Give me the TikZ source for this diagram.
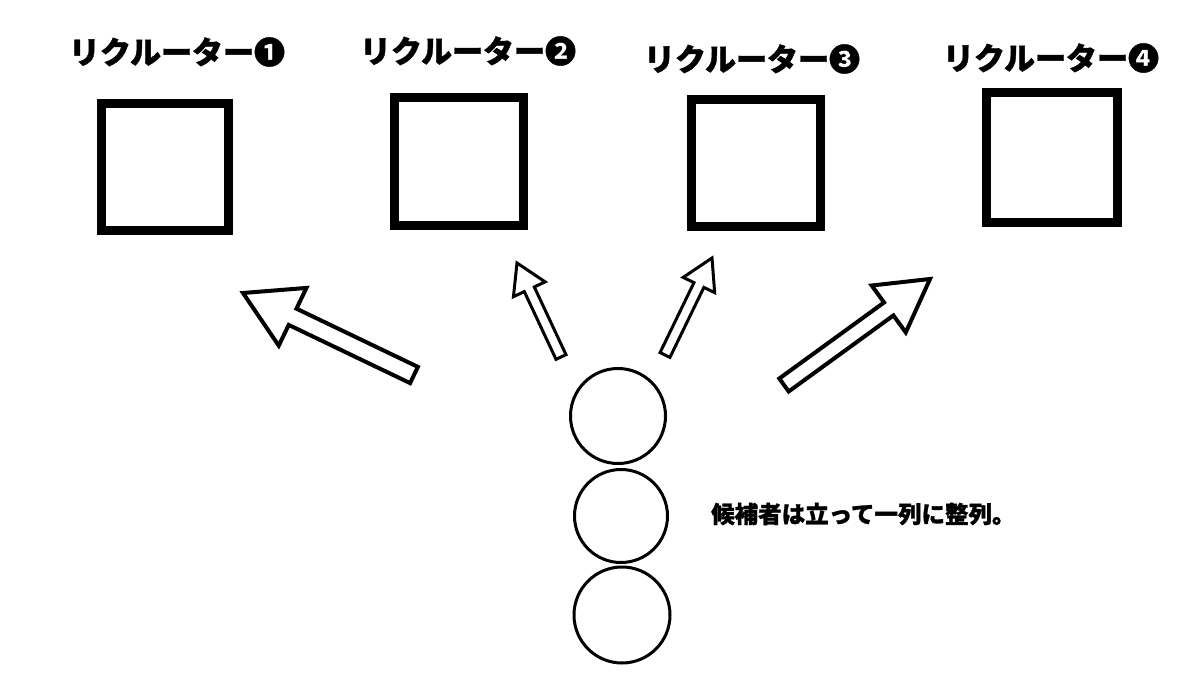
\documentclass[tikz,border=0pt]{standalone}
\usepackage{fontspec}
\newfontfamily\jp{Noto Sans CJK JP}[BoldFeatures={FakeBold=1.2}]
\usetikzlibrary{calc}
\tikzset{
  rbox/.style={draw=black, line width=9pt, fill=white},
  lbl/.style={font=\jp\bfseries\fontsize{31}{34}\selectfont, inner sep=0pt},
  person/.style={draw=black, line width=3pt, circle, inner sep=0pt},
  note/.style={font=\jp\bfseries\fontsize{23.5}{27}\selectfont, inner sep=0pt, anchor=west},
  blk/.style={draw=black, line width=#1, fill=white, line join=miter},
  blk/.default=4pt
}
% \blockarrow[line width]{tail}{tip}{shaft half width}{head half width}{head length}
\newcommand\blockarrow[6][]{%
  \coordinate (ba-b) at ($(#3)!#6!(#2)$);
  \draw[blk=#1] ($(#2)!#4!90:(#3)$) -- ($(ba-b)!#4!90:(#3)$) -- ($(ba-b)!#5!90:(#3)$)
     -- (#3) -- ($(ba-b)!#5!-90:(#3)$) -- ($(ba-b)!#4!-90:(#3)$) -- ($(#2)!#4!-90:(#3)$) -- cycle;
}
\begin{document}
\begin{tikzpicture}[x=1pt,y=-1pt]
\useasboundingbox (0,0) rectangle (1200,675);
% recruiter boxes
\draw[rbox] (101,103) rectangle (228,230);
\draw[rbox] (394,97) rectangle (523,225);
\draw[rbox] (691,99) rectangle (820,226);
\draw[rbox] (986,92) rectangle (1117,222);
% labels
\node[lbl] (l1) at (177,52) {リクルーター❶};
\node[lbl] (l2) at (468,51) {リクルーター❷};
\node[lbl] (l3) at (752,59) {リクルーター❸};
\node[lbl] (l4) at (1051,58) {リクルーター❹};
% candidates
\node[person, minimum size=95pt] (c1) at (618,416) {};
\node[person, minimum size=93pt] (c2) at (621,516) {};
\node[person, minimum size=96pt] (c3) at (622,615) {};
\node[note] (t) at (711,514) {候補者は立って一列に整列。};
% arrows
\coordinate (a1t) at (414,375); \coordinate (a1h) at (243,293);
\coordinate (a2t) at (561,357); \coordinate (a2h) at (517,263);
\coordinate (a3t) at (665,355); \coordinate (a3h) at (712,258);
\coordinate (a4t) at (784,385); \coordinate (a4h) at (930,279);
\blockarrow[4pt]{a1t}{a1h}{9pt}{32pt}{55pt}
\blockarrow[3pt]{a2t}{a2h}{5.5pt}{17.5pt}{29pt}
\blockarrow[3pt]{a3t}{a3h}{5.5pt}{17.5pt}{30pt}
\blockarrow[4pt]{a4t}{a4h}{8pt}{29pt}{51pt}
\end{tikzpicture}
\end{document}
